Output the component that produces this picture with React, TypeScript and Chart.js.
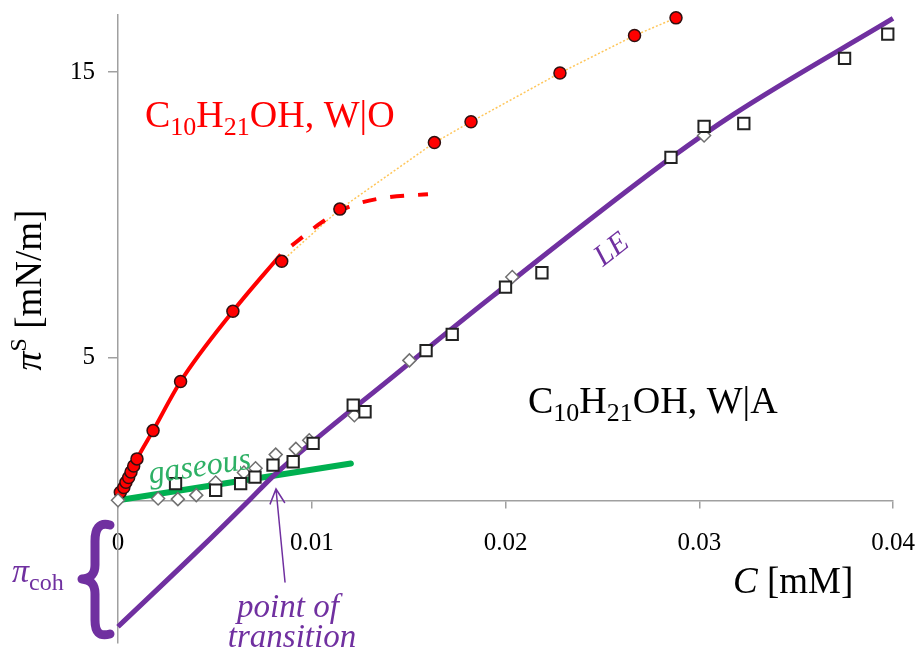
import React, { useEffect, useRef } from 'react';
import { Chart, registerables } from 'chart.js';

Chart.register(...registerables);

// ---------- data ----------
const xTicks = [0, 0.01, 0.02, 0.03, 0.04];
const yTicks = [5, 15];

// C10H21OH at water|oil : measured points (red circles)
const woC = [0.00012, 0.0003, 0.00041, 0.00055, 0.00067, 0.00081, 0.00098, 0.00181, 0.00323, 0.00593, 0.00845, 0.01145, 0.01633, 0.01822, 0.02281, 0.02666, 0.0288];
const woPi = [0.28, 0.45, 0.63, 0.8, 0.99, 1.2, 1.45, 2.44, 4.16, 6.62, 8.37, 10.2, 12.53, 13.26, 14.97, 16.28, 16.9];
const woDottedFrom = 10; // dotted connector starts at this measured point

// W|O model curve (solid) and its extension (dashed)
const woFitC = [0, 0.0003, 0.00098, 0.00181, 0.00323, 0.00593, 0.0084];
const woFitPi = [0, 0.45, 1.45, 2.44, 4.16, 6.62, 8.61];
const woExtC = [0.0084, 0.0092, 0.0104, 0.0114, 0.0124, 0.014, 0.016];
const woExtPi = [8.61, 9.05, 9.68, 10.12, 10.4, 10.62, 10.72];

// C10H21OH at water|air : squares and diamonds
const sqC = [0.00297, 0.00504, 0.00633, 0.00707, 0.008, 0.00904, 0.01007, 0.01214, 0.01275, 0.0159, 0.01725, 0.02, 0.02188, 0.02854, 0.03025, 0.0323, 0.0375, 0.03973];
const sqPi = [0.58, 0.35, 0.58, 0.81, 1.23, 1.35, 1.99, 3.33, 3.1, 5.24, 5.81, 7.47, 7.97, 12.01, 13.1, 13.2, 15.48, 16.33];
const dmC = [0, 0.00207, 0.00309, 0.00404, 0.00504, 0.0065, 0.0071, 0.00814, 0.00918, 0.00987, 0.0122, 0.01504, 0.02035, 0.03025];
const dmPi = [0, 0.06, 0.04, 0.18, 0.62, 0.97, 1.12, 1.6, 1.8, 2.1, 2.98, 4.9, 7.82, 12.78];

// LE model curve (purple) and gaseous line (green)
const leC = [0, 0.00418, 0.0068, 0.008, 0.01435, 0.01935, 0.02849, 0.03177, 0.04];
const lePi = [-4.43, -1.73, 0.02, 0.84, 4.42, 7.16, 11.97, 13.52, 16.88];
const gasC = [0, 0.01202];
const gasPi = [0, 1.29];

// ---------- helpers ----------
const SERIF = '"Liberation Serif", "Times New Roman", Times, serif';
const fnt = (size: number, italic = false) => `${italic ? 'italic ' : ''}${size}px ${SERIF}`;
const zip = (xs: number[], ys: number[]) => xs.map((x, i) => ({ x, y: ys[i] }));

const RED = '#ff0000';
const PURPLE = '#7030a0';
const GREEN_LINE = '#00b050';
const GREEN_TEXT = '#2eb065';
const AXIS = '#a0a0a0';

type Run = { t: string; font: string; dy?: number };

function drawRuns(
  ctx: CanvasRenderingContext2D,
  runs: Run[],
  x: number,
  y: number,
  color: string,
  align: 'left' | 'center' = 'left',
  baseline: CanvasTextBaseline = 'alphabetic'
) {
  ctx.save();
  ctx.fillStyle = color;
  ctx.textAlign = 'left';
  ctx.textBaseline = baseline;
  let total = 0;
  for (const r of runs) {
    ctx.font = r.font;
    total += ctx.measureText(r.t).width;
  }
  let cx = align === 'center' ? x - total / 2 : x;
  for (const r of runs) {
    ctx.font = r.font;
    ctx.fillText(r.t, cx, y + (r.dy || 0));
    cx += ctx.measureText(r.t).width;
  }
  ctx.restore();
}

const annotations = {
  id: 'annotations',
  afterDraw(chart: any) {
    const ctx: CanvasRenderingContext2D = chart.ctx;

    // C10H21OH, W|O (red)
    drawRuns(ctx, [
      { t: 'C', font: fnt(38) },
      { t: '10', font: fnt(26), dy: 8 },
      { t: 'H', font: fnt(38) },
      { t: '21', font: fnt(26), dy: 8 },
      { t: 'OH, W|O', font: fnt(38) },
    ], 145, 127, RED);

    // C10H21OH, W|A (black)
    drawRuns(ctx, [
      { t: 'C', font: fnt(38) },
      { t: '10', font: fnt(26), dy: 8 },
      { t: 'H', font: fnt(38) },
      { t: '21', font: fnt(26), dy: 8 },
      { t: 'OH, W|A', font: fnt(38) },
    ], 528, 413, '#000');

    // gaseous
    ctx.save();
    ctx.translate(201, 476);
    ctx.rotate((-8.5 * Math.PI) / 180);
    drawRuns(ctx, [{ t: 'gaseous', font: fnt(32, true) }], 0, 0, GREEN_TEXT, 'center');
    ctx.restore();

    // LE
    ctx.save();
    ctx.translate(612, 250);
    ctx.rotate((-38 * Math.PI) / 180);
    drawRuns(ctx, [{ t: 'LE', font: fnt(30, true) }], 0, 0, PURPLE, 'center', 'middle');
    ctx.restore();

    // point of transition
    drawRuns(ctx, [{ t: 'point of', font: fnt(33, true) }], 288, 617, PURPLE, 'center');
    drawRuns(ctx, [{ t: 'transition', font: fnt(33, true) }], 292, 647, PURPLE, 'center');

    // arrow
    const tail = { x: 285, y: 582 };
    const tip = { x: 276, y: 489 };
    ctx.save();
    ctx.strokeStyle = PURPLE;
    ctx.lineWidth = 1.5;
    ctx.lineCap = 'round';
    ctx.beginPath();
    ctx.moveTo(tail.x, tail.y);
    ctx.lineTo(tip.x, tip.y);
    const ang = Math.atan2(tail.y - tip.y, tail.x - tip.x);
    const arm = 16;
    const spread = (27 * Math.PI) / 180;
    ctx.moveTo(tip.x + arm * Math.cos(ang - spread), tip.y + arm * Math.sin(ang - spread));
    ctx.lineTo(tip.x, tip.y);
    ctx.lineTo(tip.x + arm * Math.cos(ang + spread), tip.y + arm * Math.sin(ang + spread));
    ctx.stroke();
    ctx.restore();

    // brace
    ctx.save();
    ctx.strokeStyle = PURPLE;
    ctx.lineWidth = 9;
    ctx.lineCap = 'round';
    ctx.lineJoin = 'round';
    ctx.beginPath();
    ctx.moveTo(110, 525);
    ctx.bezierCurveTo(99, 522, 95, 529, 95, 541);
    ctx.lineTo(95, 565);
    ctx.bezierCurveTo(95, 574, 91, 578, 82, 579);
    ctx.bezierCurveTo(91, 580, 95, 584, 95, 594);
    ctx.lineTo(95, 620);
    ctx.bezierCurveTo(95, 632, 99, 637, 110, 634);
    ctx.stroke();
    ctx.restore();

    // pi_coh
    drawRuns(ctx, [
      { t: 'π', font: fnt(34, true) },
      { t: 'coh', font: fnt(24), dy: 8 },
    ], 12, 582, PURPLE);

    // y-axis title
    ctx.save();
    ctx.translate(41, 290);
    ctx.rotate(-Math.PI / 2);
    drawRuns(ctx, [
      { t: 'π', font: fnt(38, true) },
      { t: 'S', font: fnt(24), dy: -15 },
      { t: ' [mN/m]', font: fnt(37) },
    ], 0, 0, '#000', 'center');
    ctx.restore();

    // x-axis title
    drawRuns(ctx, [
      { t: 'C', font: fnt(37, true) },
      { t: ' [mM]', font: fnt(37) },
    ], 733, 593, '#000');
  },
};

export default function App() {
  const ref = useRef<HTMLCanvasElement>(null);

  useEffect(() => {
    const canvas = ref.current;
    if (!canvas) return;

    const lineBase = {
      showLine: true,
      pointRadius: 0,
      pointHitRadius: 0,
      fill: false,
      clip: false as any,
      cubicInterpolationMode: 'monotone' as const,
    };

    const chart = new Chart(canvas, {
      type: 'scatter',
      data: {
        datasets: [
          {
            label: 'W|A squares',
            data: zip(sqC, sqPi),
            pointStyle: 'rect',
            pointRadius: 8,
            pointBackgroundColor: '#ffffff',
            pointBorderColor: '#222222',
            pointBorderWidth: 2,
            clip: false as any,
            order: 1,
          },
          {
            label: 'W|A diamonds',
            data: zip(dmC, dmPi),
            pointStyle: 'rectRot',
            pointRadius: 6.5,
            pointBackgroundColor: '#ffffff',
            pointBorderColor: '#707070',
            pointBorderWidth: 1.5,
            clip: false as any,
            order: 2,
          },
          {
            label: 'W|O',
            data: zip(woC, woPi),
            pointStyle: 'circle',
            pointRadius: 6,
            pointBackgroundColor: RED,
            pointBorderColor: '#301010',
            pointBorderWidth: 1.5,
            clip: false as any,
            order: 3,
          },
          {
            ...lineBase,
            label: 'W|O fit',
            data: zip(woFitC, woFitPi),
            borderColor: RED,
            borderWidth: 4,
            order: 4,
          },
          {
            ...lineBase,
            label: 'W|O extension',
            data: zip(woExtC, woExtPi),
            borderColor: RED,
            borderWidth: 4,
            borderDash: [14, 14],
            borderDashOffset: 14,
            order: 5,
          },
          {
            ...lineBase,
            cubicInterpolationMode: 'default' as const,
            tension: 0,
            label: 'W|O connector',
            data: zip(woC.slice(woDottedFrom), woPi.slice(woDottedFrom)),
            borderColor: '#ffc65a',
            borderWidth: 1.5,
            borderDash: [2, 2],
            order: 6,
          },
          {
            ...lineBase,
            label: 'LE',
            data: zip(leC, lePi),
            borderColor: PURPLE,
            borderWidth: 5,
            order: 7,
          },
          {
            ...lineBase,
            cubicInterpolationMode: 'default' as const,
            tension: 0,
            label: 'gaseous',
            data: zip(gasC, gasPi),
            borderColor: GREEN_LINE,
            borderWidth: 6,
            borderCapStyle: 'round',
            order: 8,
          },
        ] as any,
      },
      options: {
        animation: false,
        responsive: false,
        devicePixelRatio: 1,
        events: [],
        layout: { padding: { top: 15, right: 25, bottom: 0, left: 0 } },
        plugins: {
          legend: { display: false },
          tooltip: { enabled: false },
          title: { display: false },
        },
        scales: {
          x: {
            type: 'linear',
            min: 0,
            max: 0.04,
            position: { y: 0 } as any,
            afterBuildTicks: (s: any) => {
              s.ticks = xTicks.map((v) => ({ value: v }));
            },
            afterFit: (s: any) => {
              s.paddingLeft = 0;
              s.paddingRight = 0;
            },
            ticks: {
              color: '#000',
              font: { family: SERIF, size: 25 },
              padding: 21,
              maxRotation: 0,
              autoSkip: false,
              callback: (v: any) => String(v),
            },
            grid: {
              drawOnChartArea: false,
              drawTicks: true,
              tickLength: 7,
              color: AXIS,
              lineWidth: 1.5,
            },
            border: { color: AXIS, width: 1.5 },
          },
          y: {
            type: 'linear',
            min: -5,
            max: 17,
            position: 'left',
            afterBuildTicks: (s: any) => {
              s.ticks = yTicks.map((v) => ({ value: v }));
            },
            afterFit: (s: any) => {
              s.width = 118;
              s.paddingTop = 0;
              s.paddingBottom = 0;
            },
            ticks: {
              color: '#000',
              font: { family: SERIF, size: 25 },
              padding: 13,
              callback: (v: any) => String(v),
            },
            grid: {
              drawOnChartArea: false,
              drawTicks: true,
              tickLength: 10,
              color: AXIS,
              lineWidth: 1.5,
            },
            border: { color: AXIS, width: 1.5 },
          },
        },
      } as any,
      plugins: [annotations],
    });

    return () => chart.destroy();
  }, []);

  return (
    <div style={{ position: 'fixed', left: 0, top: 0, width: 918, height: 653, background: '#ffffff' }}>
      <canvas ref={ref} width={918} height={653} style={{ display: 'block', width: 918, height: 653 }} />
    </div>
  );
}
